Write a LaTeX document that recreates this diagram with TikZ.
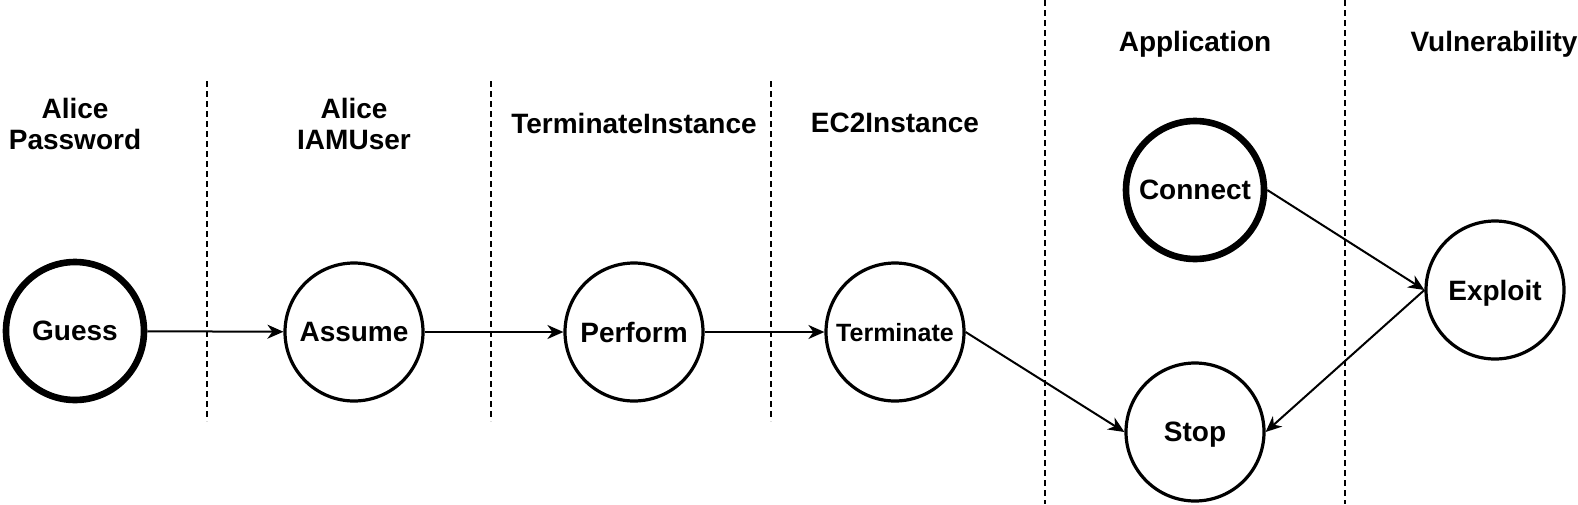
\documentclass[tikz,border=0pt]{standalone}
\usepackage{fontspec}
\setmainfont{Liberation Sans}
\usetikzlibrary{arrows.meta,positioning}

\begin{document}
\begin{tikzpicture}[
    x=0.5pt, y=-0.5pt,
    >={Stealth[length=8pt,width=7pt,inset=2.5pt]},
    action/.style={circle, draw, line width=1.6pt, minimum size=69pt, inner sep=0pt,
        text depth=0pt, font=\bfseries\fontsize{14}{16}\selectfont},
    entry/.style={action, line width=3.3pt},
    header/.style={align=center, font=\bfseries\fontsize{14}{15.5}\selectfont},
    flow/.style={->, line width=1pt},
    divider/.style={line width=1pt, dash pattern=on 3pt off 2pt}
]

\useasboundingbox (0,0) rectangle (1578,504);

% Column dividers
\foreach \x in {207,491,771}
    \draw[divider] (\x,81) -- (\x,421);
\foreach \x in {1045,1345}
    \draw[divider] (\x,0) -- (\x,504);

% Column headers
\node[header] (hpass) at (75,124) {Alice\\Password};
\node[header] (huser) at (354,124) {Alice\\IAMUser};
\node[header] (hterm) at (634,123) {TerminateInstance};
\node[header] (hec2) at (895,123) {EC2Instance};
\node[header] (happ) at (1195,44) {Application};
\node[header] (hvuln) at (1494,44) {Vulnerability};

% Attack steps
\node[entry] (guess) at (75,331) {Guess};
\node[action] (assume) at (354,332) {Assume};
\node[action] (perform) at (634,332) {Perform};
\node[action, font=\bfseries\fontsize{12.5}{14}\selectfont] (terminate) at (895,332) {Terminate};
\node[entry] (connect) at (1195,190) {Connect};
\node[action] (stop) at (1195,432) {Stop};
\node[action] (exploit) at (1495,290) {Exploit};

% Transitions
\draw[flow] (guess) -- (assume);
\draw[flow] (assume) -- (perform);
\draw[flow] (perform) -- (terminate);
\draw[flow] (terminate.east) -- (stop.west);
\draw[flow] (connect.east) -- (exploit.west);
\draw[flow] (exploit.west) -- (stop.east);

\end{tikzpicture}
\end{document}
